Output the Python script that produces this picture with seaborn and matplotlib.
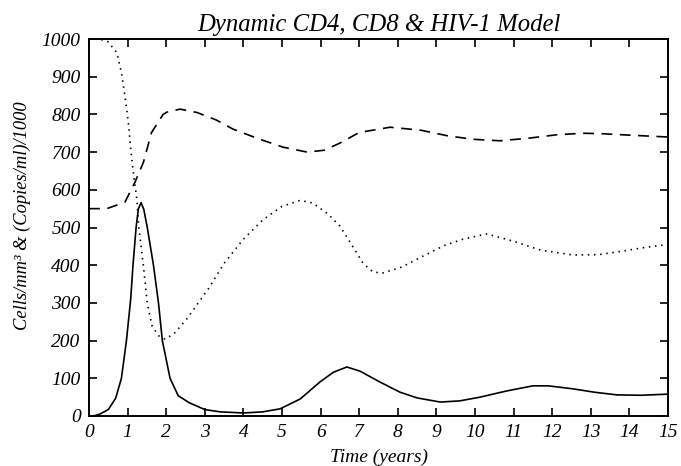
import matplotlib
matplotlib.use("Agg")
import matplotlib.pyplot as plt
import seaborn as sns

# solid curve: HIV-1 (copies/ml)/1000
t_hiv = [0.0, 0.15, 0.28, 0.5, 0.69, 0.84, 0.97, 1.08, 1.14, 1.22, 1.28, 1.35, 1.42,
         1.51, 1.67, 1.80, 1.90, 2.10, 2.31, 2.6, 3.0, 3.4, 4.0, 4.5, 4.95, 5.47,
         5.98, 6.33, 6.68, 7.02, 7.54, 8.06, 8.5, 9.1, 9.6, 10.13,
         10.8, 11.5, 11.9, 12.54, 13.1, 13.68, 14.3, 15.0]
v_hiv = [0, 1, 5, 17, 47, 100, 200, 310, 400, 500, 550, 566, 548,
         500, 400, 300, 200, 100, 54, 35, 17, 11, 8, 11, 19, 45,
         90, 116, 130, 119, 90, 63, 48, 37, 40, 50,
         66, 80, 80, 72, 63, 56, 55, 58]

# dotted curve: CD4 cells/mm3
t_cd4 = [0.0, 0.3, 0.49, 0.72, 0.84, 0.93, 1.02, 1.09, 1.17, 1.24, 1.29, 1.41, 1.51, 1.63,
         1.80, 1.97, 2.2, 2.53, 3.09, 3.5, 4.0, 4.5, 5.0, 5.47, 5.8, 6.2, 6.5,
         6.8, 7.1, 7.36, 7.6, 8.1, 8.65, 9.2, 9.69, 10.3, 10.98, 11.7, 12.54,
         13.2, 13.8, 14.4, 15.0]
v_cd4 = [1000, 999, 993, 964, 911, 849, 778, 699, 628, 575, 500, 398, 299, 240,
         213, 204, 218, 257, 337, 405, 469, 520, 556, 572, 565, 535, 504,
         455, 405, 382, 379, 395, 424, 452, 469, 483, 464, 440, 427,
         428, 437, 447, 455]

# dashed curve: CD8 cells/mm3
t_cd8 = [0.0, 0.46, 0.93, 1.19, 1.41, 1.62, 1.92, 2.02, 2.36, 2.8,
         3.3, 3.73, 4.4, 5.03, 5.65, 6.1, 6.5, 7.0, 7.8, 8.6, 9.3, 9.95, 10.65,
         11.4, 12.12, 12.8, 13.24, 14.0, 14.6, 15.0]
v_cd8 = [550, 550, 567, 620, 673, 752, 800, 806, 814, 805,
         785, 761, 735, 713, 700, 705, 724, 752, 766, 758, 743, 734, 730,
         737, 746, 750, 749, 745, 742, 740]

x_ticks = list(range(0, 16))
y_ticks = list(range(0, 1001, 100))

sns.set_style("ticks")
plt.rcParams['font.family'] = ['Liberation Serif', 'DejaVu Serif']
plt.rcParams['font.style'] = 'italic'
for key in ['text.color', 'axes.labelcolor', 'xtick.color', 'ytick.color']:
    plt.rcParams[key] = 'black'

fig = plt.figure(figsize=(6.81, 4.66), dpi=100)
ax = fig.add_axes([89 / 681, 1 - 416 / 466, 579 / 681, 377 / 466])

sns.lineplot(x=t_hiv, y=v_hiv, ax=ax, color='black', lw=1.2, sort=False)
sns.lineplot(x=t_cd4, y=v_cd4, ax=ax, color='black', lw=1.2, sort=False,
             linestyle=(0, (0.9, 2.8)))
sns.lineplot(x=t_cd8, y=v_cd8, ax=ax, color='black', lw=1.2, sort=False,
             linestyle=(0, (6.5, 4.5)))

ax.set_xlim(0, 15)
ax.set_ylim(0, 1000)
ax.set_xticks(x_ticks)
ax.set_yticks(y_ticks)
ax.set_xticklabels([str(v) for v in x_ticks], fontsize=14, style='italic')
ax.set_yticklabels([str(v) for v in y_ticks], fontsize=14, style='italic')
ax.tick_params(direction='in', length=6, width=1.2, top=True, right=True,
               labelsize=14, pad=6, color='black', labelcolor='black')
for s in ax.spines.values():
    s.set_linewidth(1.4)
    s.set_color('black')

ax.set_xlabel("Time (years)", fontsize=14, style='italic', labelpad=5)
ax.set_ylabel("Cells/mm³ & (Copies/ml)/1000", fontsize=13.3, style='italic')
ax.yaxis.set_label_coords(-0.1, 0.532)
ax.set_title("Dynamic CD4, CD8 & HIV-1 Model", fontsize=17.8, style='italic', pad=6)

fig.savefig("out.png", dpi=100)
